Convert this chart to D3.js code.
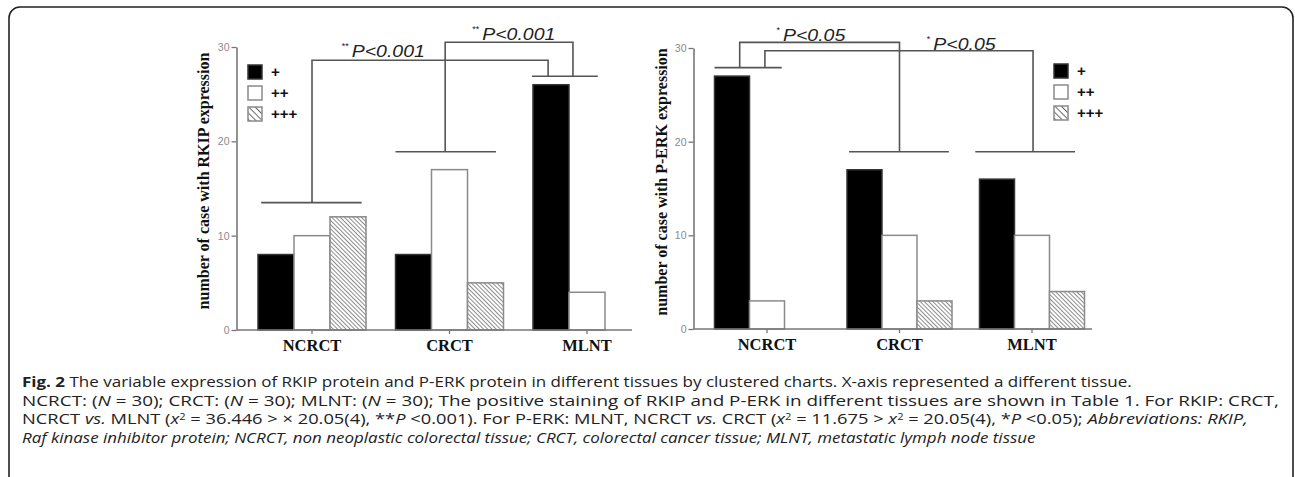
<!DOCTYPE html>
<html>
<head>
<meta charset="utf-8">
<script src="https://cdn.jsdelivr.net/npm/d3@7"></script>
<style>
body { margin: 0; background: #fff; overflow: hidden; }
svg { display: block; }
</style>
</head>
<body>
<svg width="1295" height="477"></svg>
<script>
// chart values
var categories = ['NCRCT', 'CRCT', 'MLNT'];
var levels = ['+', '++', '+++'];
var rkipOne = [8, 8, 26];
var rkipTwo = [10, 17, 4];
var rkipThree = [12, 5, 0];
var perkOne = [27, 17, 16];
var perkTwo = [3, 10, 10];
var perkThree = [0, 3, 4];
var yTicks = [0, 10, 20, 30];

var svg = d3.select('svg');
var svgWidth = +svg.attr('width');
var svgHeight = +svg.attr('height');

// rounded frame round the figure (bottom edge falls below the picture)
svg.append('rect')
    .attr('x', 9).attr('y', 7)
    .attr('width', svgWidth - 11).attr('height', svgHeight + 20)
    .attr('rx', 11)
    .attr('fill', 'none')
    .attr('stroke', '#222')
    .attr('stroke-width', 1.6);

// hatch pattern for +++
var defs = svg.append('defs');
var pat = defs.append('pattern')
    .attr('id', 'hatch')
    .attr('patternUnits', 'userSpaceOnUse')
    .attr('width', 3).attr('height', 3)
    .attr('patternTransform', 'rotate(-45)');
pat.append('rect').attr('width', 3).attr('height', 3).attr('fill', '#fff');
pat.append('line')
    .attr('x1', 0).attr('y1', 0).attr('x2', 0).attr('y2', 3)
    .attr('stroke', '#666').attr('stroke-width', 1.5);

var legPat = defs.append('pattern')
    .attr('id', 'hatchLeg')
    .attr('patternUnits', 'userSpaceOnUse')
    .attr('width', 4.5).attr('height', 4.5)
    .attr('patternTransform', 'rotate(-45)');
legPat.append('rect').attr('width', 4.5).attr('height', 4.5).attr('fill', '#fff');
legPat.append('line')
    .attr('x1', 0).attr('y1', 0).attr('x2', 0).attr('y2', 4.5)
    .attr('stroke', '#666').attr('stroke-width', 2);

var fills = ['#000', '#fff', 'url(#hatch)'];
var legFills = ['#000', '#fff', 'url(#hatchLeg)'];
var strokes = ['#333', '#8a8a8a', '#8a8a8a'];

function drawPanel(cfg) {
    var x = d3.scaleBand()
        .domain(categories)
        .range(cfg.xRange)
        .paddingInner(cfg.padIn)
        .paddingOuter(cfg.padOut);
    var xs = d3.scaleBand().domain(levels).range([0, x.bandwidth()]);
    var y = d3.scaleLinear().domain([0, 30]).range(cfg.yRange);

    var g = svg.append('g');

    // bars
    var rows = categories.map(function(c, i) {
        return {cat: c, vals: cfg.series.map(function(s) { return s[i]; })};
    });
    var grp = g.selectAll('.grp')
        .data(rows)
        .enter().append('g')
        .attr('transform', function(d) { return 'translate(' + x(d.cat) + ',0)'; });
    grp.selectAll('rect')
        .data(function(d) { return d.vals.map(function(v, k) { return {lev: levels[k], v: v, k: k}; }); })
        .enter().filter(function(d) { return d.v > 0; })
        .append('rect')
        .attr('x', function(d) { return xs(d.lev); })
        .attr('y', function(d) { return y(d.v); })
        .attr('width', xs.bandwidth())
        .attr('height', function(d) { return y(0) - y(d.v); })
        .attr('fill', function(d) { return fills[d.k]; })
        .attr('stroke', function(d) { return strokes[d.k]; })
        .attr('stroke-width', 1.5);

    // y axis
    var yAxis = d3.axisLeft(y).tickValues(yTicks).tickSize(5).tickSizeOuter(0).tickPadding(2);
    var ya = g.append('g')
        .attr('transform', 'translate(' + cfg.axisX + ',0)')
        .call(yAxis);
    ya.select('.domain').attr('stroke', '#777').attr('stroke-width', 1.6);
    ya.selectAll('.tick line').attr('stroke', '#777').attr('stroke-width', 1.3);
    ya.selectAll('.tick text')
        .attr('fill', '#8a8a8a')
        .style('font-family', 'Liberation Sans, Arial, sans-serif')
        .style('font-size', '10.5px');

    // x axis
    var xAxis = d3.axisBottom(x).tickSize(4).tickSizeOuter(0).tickPadding(5);
    var xa = g.append('g')
        .attr('transform', 'translate(0,' + y(0) + ')')
        .call(xAxis);
    xa.select('.domain').remove();
    xa.append('line')
        .attr('x1', cfg.axisX).attr('x2', cfg.axisEnd)
        .attr('stroke', '#777').attr('stroke-width', 1.6);
    xa.selectAll('.tick line').attr('stroke', '#777').attr('stroke-width', 1.3);
    xa.selectAll('.tick text')
        .attr('fill', '#111')
        .style('font-family', 'Liberation Serif, Times New Roman, serif')
        .style('font-weight', 'bold')
        .style('font-size', '16.5px');

    // y axis title
    g.append('text')
        .attr('transform', 'translate(' + cfg.titleX + ',' + cfg.titleY + ') rotate(-90)')
        .attr('text-anchor', 'middle')
        .attr('fill', '#111')
        .style('font-family', 'Liberation Serif, Times New Roman, serif')
        .style('font-weight', 'bold')
        .style('font-size', '16px')
        .text(cfg.title);

    // legend
    var lg = g.selectAll('.leg')
        .data(levels)
        .enter().append('g')
        .attr('transform', function(d, i) { return 'translate(' + cfg.legX + ',' + (cfg.legY + i * 21) + ')'; });
    lg.append('rect')
        .attr('width', 14).attr('height', 14)
        .attr('fill', function(d, i) { return legFills[i]; })
        .attr('stroke', function(d, i) { return strokes[i]; })
        .attr('stroke-width', 1.5);
    lg.append('text')
        .attr('x', 23).attr('y', 7).attr('dy', '0.36em')
        .attr('fill', '#111')
        .style('font-family', 'Liberation Sans, Arial, sans-serif')
        .style('font-weight', 'bold')
        .style('font-size', '15px')
        .text(function(d) { return d; });

    // significance brackets
    function px(cat, f) { return x(cat) + f * x.bandwidth(); }
    var lineCol = '#555';
    cfg.groupLines.forEach(function(b) {
        g.append('line')
            .attr('x1', px(b.cat, b.from)).attr('x2', px(b.cat, b.to))
            .attr('y1', y(b.y)).attr('y2', y(b.y))
            .attr('stroke', lineCol).attr('stroke-width', 1.6);
    });
    cfg.links.forEach(function(l) {
        var pts = [
            [px(l.a[0], l.a[1]), y(l.a[2])],
            [px(l.a[0], l.a[1]), y(l.top)],
            [px(l.b[0], l.b[1]), y(l.top)],
            [px(l.b[0], l.b[1]), y(l.b[2])]
        ];
        g.append('path')
            .attr('d', d3.line()(pts))
            .attr('fill', 'none')
            .attr('stroke', lineCol).attr('stroke-width', 1.6);
    });
    cfg.labels.forEach(function(t) {
        var lx = px(t.cat, t.at);
        var ly = y(t.y);
        g.append('text')
            .attr('x', lx).attr('y', ly - 8)
            .attr('fill', '#222')
            .style('font-family', 'Liberation Sans, Arial, sans-serif')
            .style('font-size', '9px')
            .text(t.stars);
        g.append('text')
            .attr('transform', 'translate(' + (lx + t.stars.length * 3.5 + 3) + ',' + ly + ') scale(1.22,1)')
            .attr('fill', '#222')
            .style('font-family', 'Liberation Sans, Arial, sans-serif')
            .style('font-style', 'italic')
            .style('font-size', '16px')
            .text(t.text);
    });
}

drawPanel({
    series: [rkipOne, rkipTwo, rkipThree],
    xRange: [243.25, 655.75], padIn: 0.2145, padOut: 0.1073,
    yRange: [330, 47],
    axisX: 236.5, axisEnd: 632,
    title: 'number of case with RKIP expression', titleX: 209, titleY: 181,
    legX: 248, legY: 65,
    groupLines: [
        {cat: 'NCRCT', y: 13.5, from: 0.03, to: 0.96},
        {cat: 'CRCT', y: 18.9, from: 0, to: 0.93},
        {cat: 'MLNT', y: 26.9, from: -0.01, to: 0.6}
    ],
    links: [
        {a: ['NCRCT', 0.5, 13.5], b: ['MLNT', 0.14, 26.9], top: 28.6},
        {a: ['CRCT', 0.46, 18.9], b: ['MLNT', 0.37, 26.9], top: 30.5}
    ],
    labels: [
        {cat: 'NCRCT', at: 0.775, y: 28.9, stars: '**', text: 'P<0.001'},
        {cat: 'CRCT', at: 0.71, y: 30.7, stars: '**', text: 'P<0.001'}
    ]
});

drawPanel({
    series: [perkOne, perkTwo, perkThree],
    xRange: [700.75, 1098.25], padIn: 0.2075, padOut: 0.1038,
    yRange: [329, 48],
    axisX: 693.5, axisEnd: 1092,
    title: 'number of case with P-ERK expression', titleX: 667, titleY: 182,
    legX: 1054, legY: 64,
    groupLines: [
        {cat: 'NCRCT', y: 27.9, from: 0, to: 0.64},
        {cat: 'CRCT', y: 18.93, from: 0.02, to: 0.97},
        {cat: 'MLNT', y: 18.93, from: -0.04, to: 0.91}
    ],
    links: [
        {a: ['NCRCT', 0.24, 27.9], b: ['CRCT', 0.5, 18.93], top: 30.6},
        {a: ['NCRCT', 0.48, 27.9], b: ['MLNT', 0.51, 18.93], top: 29.7}
    ],
    labels: [
        {cat: 'NCRCT', at: 0.59, y: 30.7, stars: '*', text: 'P<0.05'},
        {cat: 'CRCT', at: 0.76, y: 29.8, stars: '*', text: 'P<0.05'}
    ]
});

// caption, one entry per printed line: [text, style]
var captionLines = [
    [['Fig. 2', 'b'], [' The variable expression of RKIP protein and P-ERK protein in different tissues by clustered charts. X-axis represented a different tissue.', '']],
    [['NCRCT: (', ''], ['N', 'i'], [' = 30); CRCT: (', ''], ['N', 'i'], [' = 30); MLNT: (', ''], ['N', 'i'],
     [' = 30); The positive staining of RKIP and P-ERK in different tissues are shown in Table 1. For RKIP: CRCT,', '']],
    [['NCRCT ', ''], ['vs.', 'i'], [' MLNT (', ''], ['x', 'i'], ['2', 'sup'], [' = 36.446 > \u00d7 20.05(4), **', ''], ['P', 'i'],
     [' <0.001). For P-ERK: MLNT, NCRCT ', ''], ['vs.', 'i'], [' CRCT (', ''], ['x', 'i'], ['2', 'sup'], [' = 11.675 > ', ''],
     ['x', 'i'], ['2', 'sup'], [' = 20.05(4), *', ''], ['P', 'i'], [' <0.05); ', ''], ['Abbreviations: RKIP,', 'i']],
    [['Raf kinase inhibitor protein; NCRCT, non neoplastic colorectal tissue; CRCT, colorectal cancer tissue; MLNT, metastatic lymph node tissue', 'i']]
];
var captionEnds = [1133, 1280, 1248, 1036];
var capY0 = 387, capStep = 18.5;

var capG = svg.append('g')
    .style('font-family', 'Open Sans, sans-serif')
    .style('font-size', '15px')
    .attr('fill', '#222');

captionLines.forEach(function(segs, i) {
    var t = capG.append('text')
        .attr('transform', 'translate(22,' + (capY0 + i * capStep) + ')');
    var wasSup = false;
    segs.forEach(function(s) {
        var ts = t.append('tspan').text(s[0]);
        if (s[1] === 'b') ts.style('font-weight', 'bold');
        if (s[1] === 'i') ts.style('font-style', 'italic');
        if (s[1] === 'sup') {
            ts.attr('dy', -4).style('font-size', '9px');
            wasSup = true;
        } else if (wasSup) {
            ts.attr('dy', 4);
            wasSup = false;
        }
    });
    var w = t.node().getComputedTextLength();
    var sx = (captionEnds[i] - 22) / w;
    t.attr('transform', 'translate(22,' + (capY0 + i * capStep) + ') scale(' + sx + ',1)');
});
</script>
</body>
</html>
